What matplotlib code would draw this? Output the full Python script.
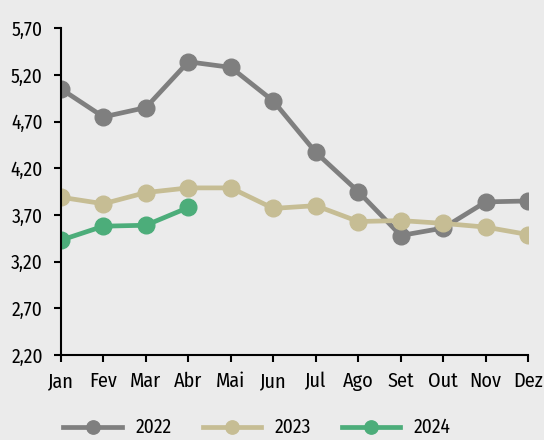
import numpy as np
import matplotlib.pyplot as plt

meses = ['Jan', 'Fev', 'Mar', 'Abr', 'Mai', 'Jun', 'Jul', 'Ago', 'Set', 'Out', 'Nov', 'Dez']
v2022 = [5.05, 4.75, 4.85, 5.34, 5.28, 4.92, 4.37, 3.95, 3.48, 3.56, 3.84, 3.85]
v2023 = [3.89, 3.82, 3.94, 3.99, 3.99, 3.77, 3.80, 3.63, 3.64, 3.61, 3.57, 3.49]
v2024 = [3.43, 3.58, 3.59, 3.78]
yticks = [2.20, 2.70, 3.20, 3.70, 4.20, 4.70, 5.20, 5.70]

plt.rcParams['font.family'] = ['Fira Sans Condensed', 'DejaVu Sans']

bg = '#ebebeb'
fig = plt.figure(figsize=(5.44, 4.4), dpi=100, facecolor=bg)
ax = fig.add_axes([0.112, 0.193, 0.859, 0.743], facecolor=bg)

x = np.arange(len(meses))
kw = dict(lw=3.4, marker='o', ms=12)
ax.plot(x, v2022, color='#7f7f7f', label='2022', **kw)
ax.plot(x, v2023, color='#c6bd94', label='2023', **kw)
ax.plot(x[:len(v2024)], v2024, color='#4cad7a', label='2024', **kw)

ax.set_xlim(0, 11)
ax.set_ylim(2.2, 5.7)
ax.set_xticks(x)
ax.set_xticklabels(meses, fontsize=14.5)
ax.set_yticks(yticks)
ax.set_yticklabels([f'{v:.2f}'.replace('.', ',') for v in yticks], fontsize=14)
for s in ['top', 'right']:
    ax.spines[s].set_visible(False)
for s in ['left', 'bottom']:
    ax.spines[s].set_linewidth(1.5)
    ax.spines[s].set_color('black')
ax.tick_params(length=5, width=1.5)
ax.tick_params(axis='x', pad=7)
ax.tick_params(axis='y', pad=8)
for sp in ax.spines.values():
    sp.set_clip_on(False)

ax.legend(loc='center', bbox_to_anchor=(0.42, -0.222), ncol=3, frameon=False,
          fontsize=14, handlelength=3.0, handletextpad=0.7, columnspacing=1.6,
          markerscale=0.8)

fig.savefig('out.png', dpi=100, facecolor=bg)
